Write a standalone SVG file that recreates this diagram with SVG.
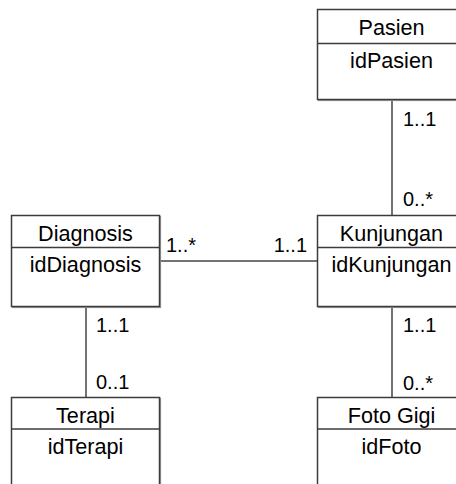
<svg xmlns="http://www.w3.org/2000/svg" width="456" height="484" viewBox="0 0 456 484">
<style>
.box{fill:#fff;stroke:#3c3c3c;stroke-width:1.5}
.shadow{fill:none;stroke:#9a9a9a;stroke-width:1.2}
.div{stroke:#3c3c3c;stroke-width:1.5}
.t{font-family:"Liberation Sans",Arial,sans-serif;font-size:21.6px;fill:#000;text-anchor:middle}
.lbl{font-family:"Liberation Sans",Arial,sans-serif;font-size:20px;fill:#000}
.con{stroke:#444;stroke-width:1.5;fill:none}
</style>
<rect width="456" height="484" fill="#fff"/>
<g id="connectors">
<line class="con" x1="392" y1="99.5" x2="392" y2="215.5"/>
<line class="con" x1="159.5" y1="261" x2="317.5" y2="261"/>
<line class="con" x1="86" y1="306.5" x2="86" y2="397.5"/>
<line class="con" x1="392" y1="306.5" x2="392" y2="397.5"/>
<text class="lbl" x="403" y="126">1..1</text>
<text class="lbl" x="403" y="206">0..*</text>
<text class="lbl" x="166" y="252">1..*</text>
<text class="lbl" x="307" y="252" text-anchor="end">1..1</text>
<text class="lbl" x="96" y="332">1..1</text>
<text class="lbl" x="96" y="389">0..1</text>
<text class="lbl" x="403" y="332">1..1</text>
<text class="lbl" x="403" y="390">0..*</text>
</g>
<g id="pasien">
<rect class="shadow" x="318.5" y="10.5" width="148" height="90"/>
<rect class="box" x="317.5" y="9.5" width="148" height="90"/>
<line class="div" x1="317.5" y1="43.5" x2="465.5" y2="43.5"/>
<text class="t" x="391.5" y="35">Pasien</text>
<text class="t" x="391.5" y="68">idPasien</text>
</g>
<g id="diagnosis">
<rect class="shadow" x="12.5" y="216.5" width="148" height="91"/>
<rect class="box" x="11.5" y="215.5" width="148" height="91"/>
<line class="div" x1="11.5" y1="247.5" x2="159.5" y2="247.5"/>
<text class="t" x="85.5" y="240.5">Diagnosis</text>
<text class="t" x="85.5" y="272">idDiagnosis</text>
</g>
<g id="kunjungan">
<rect class="shadow" x="318.5" y="216.5" width="148" height="91"/>
<rect class="box" x="317.5" y="215.5" width="148" height="91"/>
<line class="div" x1="317.5" y1="247.5" x2="465.5" y2="247.5"/>
<text class="t" x="391.5" y="240.5">Kunjungan</text>
<text class="t" x="391.5" y="272">idKunjungan</text>
</g>
<g id="terapi">
<rect class="shadow" x="12.5" y="398.5" width="148" height="91"/>
<rect class="box" x="11.5" y="397.5" width="148" height="91"/>
<line class="div" x1="11.5" y1="429" x2="159.5" y2="429"/>
<text class="t" x="85.5" y="422.5">Terapi</text>
<text class="t" x="85.5" y="454">idTerapi</text>
</g>
<g id="fotogigi">
<rect class="shadow" x="318.5" y="398.5" width="148" height="91"/>
<rect class="box" x="317.5" y="397.5" width="148" height="91"/>
<line class="div" x1="317.5" y1="429" x2="465.5" y2="429"/>
<text class="t" x="391.5" y="422.5">Foto Gigi</text>
<text class="t" x="391.5" y="454">idFoto</text>
</g>
</svg>
